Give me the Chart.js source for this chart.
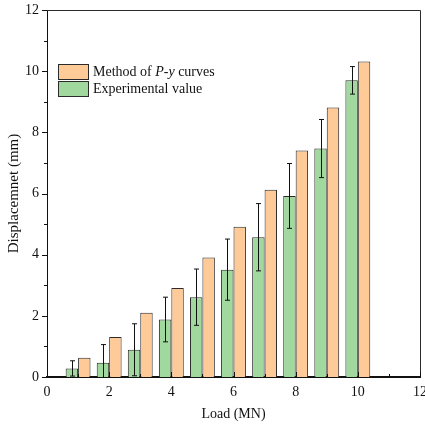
<!DOCTYPE html>
<html>
<head>
<meta charset="utf-8">
<script src="https://cdn.jsdelivr.net/npm/chart.js@4/dist/chart.umd.min.js"></script>
<style>
  html, body { margin: 0; padding: 0; background: #fff; }
  canvas { display: block; }
</style>
</head>
<body>
<canvas id="myChart" width="425" height="425"></canvas>
<script>
// chart values
var loads = [1, 2, 3, 4, 5, 6, 7, 8, 9, 10];
var experimental = [0.28, 0.47, 0.89, 1.88, 2.61, 3.51, 4.57, 5.92, 7.47, 9.70];
var experimentalErr = [0.25, 0.59, 0.85, 0.73, 0.92, 1.0, 1.1, 1.06, 0.95, 0.45];
var pyCurves = [0.63, 1.31, 2.10, 2.91, 3.91, 4.91, 6.12, 7.41, 8.81, 10.32];
var xTicks = [0, 2, 4, 6, 8, 10, 12];
var yTicks = [0, 2, 4, 6, 8, 10, 12];

var FONT = '"Liberation Serif", "Times New Roman", serif';
var ORANGE = 'rgb(253, 202, 152)';
var GREEN = 'rgb(160, 216, 158)';
var EDGE = '#2b2b2b';

function toPoints(vals) {
    return loads.map(function (x, i) { return { x: x, y: vals[i] }; });
}

var extras = {
    id: 'extras',
    afterDatasetsDraw: function (chart) {
        var ctx = chart.ctx;
        var ys = chart.scales.y;
        var area = chart.chartArea;
        var meta = chart.getDatasetMeta(0);
        ctx.save();
        ctx.beginPath();
        ctx.rect(area.left, area.top, area.right - area.left, area.bottom - area.top);
        ctx.clip();
        ctx.strokeStyle = '#111';
        ctx.lineWidth = 1;
        meta.data.forEach(function (bar, i) {
            var x = Math.round(bar.x) + 0.5;
            var top = ys.getPixelForValue(experimental[i] + experimentalErr[i]);
            var bot = ys.getPixelForValue(experimental[i] - experimentalErr[i]);
            ctx.beginPath();
            ctx.moveTo(x, top); ctx.lineTo(x, bot);
            ctx.moveTo(x - 2.5, top); ctx.lineTo(x + 2.5, top);
            ctx.moveTo(x - 2.5, bot); ctx.lineTo(x + 2.5, bot);
            ctx.stroke();
        });
        ctx.restore();
    },
    afterDraw: function (chart) {
        var ctx = chart.ctx;
        var xs = chart.scales.x, ys = chart.scales.y;
        var area = chart.chartArea;
        ctx.save();
        // top and right frame
        ctx.strokeStyle = EDGE;
        ctx.lineWidth = 1;
        ctx.beginPath();
        ctx.moveTo(area.left, area.top + 0.5);
        ctx.lineTo(area.right + 0.5, area.top + 0.5);
        ctx.lineTo(area.right + 0.5, area.bottom);
        ctx.stroke();

        // tick marks
        ctx.strokeStyle = '#111';
        ctx.beginPath();
        for (var v = 0; v <= 12; v++) {
            var len = (v % 2 === 0) ? 5 : 3;
            var px = Math.round(xs.getPixelForValue(v)) + 0.5;
            ctx.moveTo(px, area.bottom);
            ctx.lineTo(px, area.bottom - len);
            var py = Math.round(ys.getPixelForValue(v)) + 0.5;
            ctx.moveTo(area.left, py);
            ctx.lineTo(area.left - len, py);
        }
        ctx.stroke();

        // legend
        var items = [
            { fill: ORANGE, parts: [['Method of ', false], ['P', true], ['-', false], ['y', true], [' curves', false]] },
            { fill: GREEN, parts: [['Experimental value', false]] }
        ];
        var lx = 58, ly = 64, bw = 31, bh = 16;
        items.forEach(function (it, i) {
            var y0 = ly + i * 17;
            ctx.fillStyle = it.fill;
            ctx.fillRect(lx, y0, bw, bh);
            ctx.strokeStyle = EDGE;
            ctx.lineWidth = 1;
            ctx.strokeRect(lx + 0.5, y0 + 0.5, bw - 1, bh - 1);
            var tx = lx + bw + 4;
            ctx.fillStyle = '#111';
            ctx.textBaseline = 'middle';
            it.parts.forEach(function (p) {
                ctx.font = (p[1] ? 'italic ' : '') + '14px ' + FONT;
                ctx.fillText(p[0], tx, y0 + bh / 2 + 0.5);
                tx += ctx.measureText(p[0]).width;
            });
        });
        ctx.restore();
    }
};

var ctx = document.getElementById('myChart').getContext('2d');
var myChart = new Chart(ctx, {
    type: 'bar',
    data: {
        datasets: [{
            label: 'Experimental value',
            data: toPoints(experimental),
            backgroundColor: GREEN,
            borderColor: EDGE,
            borderWidth: 1
        }, {
            label: 'Method of P-y curves',
            data: toPoints(pyCurves),
            backgroundColor: ORANGE,
            borderColor: EDGE,
            borderWidth: 1
        }]
    },
    options: {
        responsive: false,
        animation: false,
        layout: { padding: { left: 0, right: 5, top: 10, bottom: 0 } },
        datasets: { bar: { categoryPercentage: 0.8, barPercentage: 1.0 } },
        plugins: { legend: { display: false }, tooltip: { enabled: false } },
        scales: {
            x: {
                type: 'linear',
                offset: false,
                min: 0, max: 12,
                afterBuildTicks: function (scale) {
                    scale.ticks = xTicks.map(function (v) { return { value: v }; });
                },
                afterFit: function (scale) { scale.height = 48; scale.paddingRight = 0; scale.paddingLeft = 0; },
                grid: { display: false, drawTicks: false },
                border: { display: true, color: '#111', width: 2 },
                ticks: { color: '#111', padding: 7, maxRotation: 0, autoSkip: false, font: { family: FONT, size: 14 } },
                title: { display: true, text: 'Load (MN)', color: '#111', padding: { top: 0, bottom: 2 }, font: { family: FONT, size: 14 } }
            },
            y: {
                min: 0, max: 12,
                afterBuildTicks: function (scale) {
                    scale.ticks = yTicks.map(function (v) { return { value: v }; });
                },
                afterFit: function (scale) { scale.width = 47; scale.paddingTop = 0; },
                grid: { display: false, drawTicks: false },
                border: { display: true, color: '#111', width: 1 },
                ticks: { color: '#111', padding: 8, font: { family: FONT, size: 14 } },
                title: { display: true, text: 'Displacemnet (mm)', color: '#111', padding: { top: 5, bottom: 0 }, font: { family: FONT, size: 15 } }
            }
        }
    },
    plugins: [extras]
});
</script>
</body>
</html>
